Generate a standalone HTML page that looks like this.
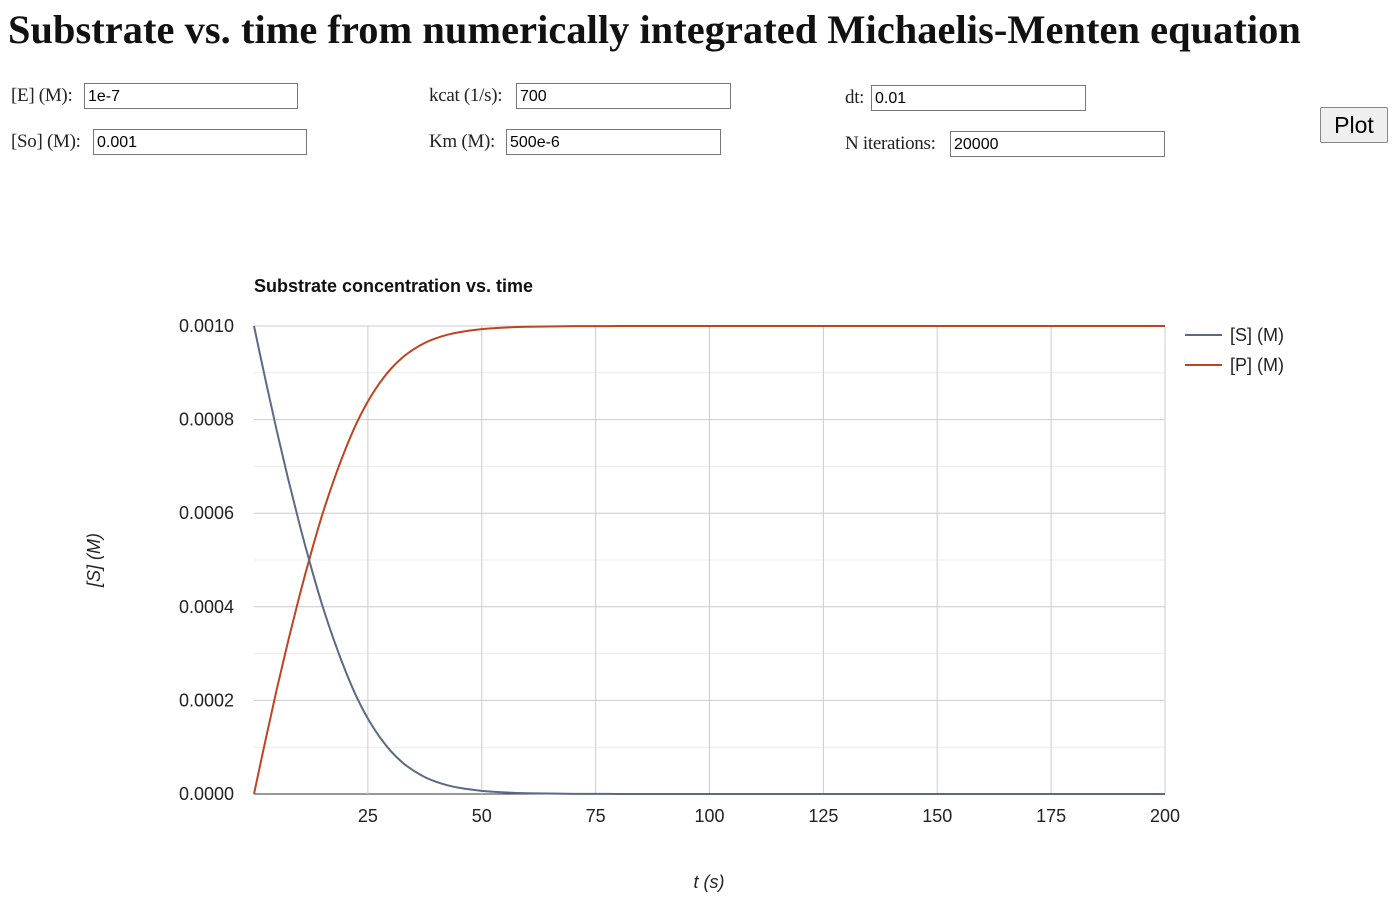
<!DOCTYPE html>
<html><head><meta charset="utf-8">
<style>
body{margin:0;width:1400px;height:907px;background:#fff;position:relative;overflow:hidden;font-family:"Liberation Serif",serif;}
h1{position:absolute;left:8px;top:6px;margin:0;font-size:40.4px;font-weight:bold;color:#111;white-space:nowrap;letter-spacing:0.05px;}
.lbl{position:absolute;font-size:19px;color:#222;white-space:nowrap;letter-spacing:-0.3px;}
.inp{position:absolute;height:26px;border:1px solid #777;font-family:"Liberation Sans",sans-serif;font-size:16px;padding:0 3px;box-sizing:border-box;line-height:26px;color:#000;background:#fff;}
.btn{position:absolute;left:1320px;top:107px;width:68px;height:36px;border:1px solid #888;border-radius:2px;background:#efefef;font-family:"Liberation Sans",sans-serif;font-size:23px;text-align:center;line-height:34px;box-sizing:border-box;}
svg text{font-family:"Liberation Sans",sans-serif;}
</style></head><body>
<h1>Substrate vs. time from numerically integrated Michaelis-Menten equation</h1>
<span class="lbl" style="left:11px;top:85px">[E] (M):</span>
<div class="inp" style="left:84px;top:83px;width:214px">1e-7</div>
<span class="lbl" style="left:11px;top:131px">[So] (M):</span>
<div class="inp" style="left:93px;top:129px;width:214px">0.001</div>
<span class="lbl" style="left:429px;top:85px">kcat (1/s):</span>
<div class="inp" style="left:516px;top:83px;width:215px">700</div>
<span class="lbl" style="left:429px;top:131px">Km (M):</span>
<div class="inp" style="left:506px;top:129px;width:215px">500e-6</div>
<span class="lbl" style="left:845px;top:87px">dt:</span>
<div class="inp" style="left:871px;top:85px;width:215px">0.01</div>
<span class="lbl" style="left:845px;top:133px">N iterations:</span>
<div class="inp" style="left:950px;top:131px;width:215px">20000</div>
<div class="btn">Plot</div>
<svg id="chart" width="1400" height="907" style="position:absolute;left:0;top:0"></svg>
<script>
const times=[0,2.5,5,7.5,10,12.5,15,17.5,20,22.5,25,27.5,30,32.5,35,37.5,40,42.5,45,50,55,60,70,80,90,100,125,150,175,200];
const sValues=[0.001,0.000886,0.000776,0.000673,0.000576,0.000486,0.000403,0.00033,0.000265,0.000208,0.000161,0.000123,0.000092,0.000068,0.00005,0.000036,0.000026,0.0000186,0.0000133,0.0000067,0.0000034,0.0000017,0.0000004,0.0000001,0,0,0,0,0,0];
const pValues=[0,0.000114,0.000224,0.000327,0.000424,0.000514,0.000597,0.00067,0.000735,0.000792,0.000839,0.000877,0.000908,0.000932,0.00095,0.000964,0.000974,0.0009814,0.0009867,0.0009933,0.0009966,0.0009983,0.0009996,0.0009999,0.001,0.001,0.001,0.001,0.001,0.001];
const xTicks=[25,50,75,100,125,150,175,200];
const yTicks=[0,0.0002,0.0004,0.0006,0.0008,0.001];
const yTickLabels=["0.0000","0.0002","0.0004","0.0006","0.0008","0.0010"];
const yMinor=[0.0001,0.0003,0.0005,0.0007,0.0009];
const X0=254,X1=1165,Y0=794,Y1=326;
const xs=t=>X0+(t/200)*(X1-X0);
const ys=v=>Y0-(v/0.001)*(Y0-Y1);
const svg=document.getElementById('chart');
const NS='http://www.w3.org/2000/svg';
function mk(tag,attrs,txt){const e=document.createElementNS(NS,tag);for(const k in attrs)e.setAttribute(k,attrs[k]);if(txt!=null)e.textContent=txt;svg.appendChild(e);return e;}
function smooth(vals){const p=times.map((t,i)=>[xs(t),ys(vals[i])]);let d='M'+p[0][0]+','+p[0][1];
for(let i=0;i<p.length-1;i++){const a=p[i-1]||p[i],b=p[i],c=p[i+1],e=p[i+2]||c;
d+=' C'+(b[0]+(c[0]-a[0])/6)+','+(b[1]+(c[1]-a[1])/6)+' '+(c[0]-(e[0]-b[0])/6)+','+(c[1]-(e[1]-b[1])/6)+' '+c[0]+','+c[1];}return d;}
yMinor.forEach(v=>{const l=mk('line',{x1:X0,x2:X1,y1:ys(v),y2:ys(v),stroke:'#ececec','stroke-width':1});

});
yTicks.forEach((v,i)=>{const l=mk('line',{x1:X0,x2:X1,y1:ys(v),y2:ys(v),stroke:v===0?'#333':'#ccc','stroke-width':1});


const t=mk('text',{x:234,y:ys(v)+6,'text-anchor':'end','font-size':18,fill:'#222'},yTickLabels[i]);

});
xTicks.forEach(v=>{const l=mk('line',{x1:xs(v),x2:xs(v),y1:Y1,y2:Y0,stroke:'#ccc','stroke-width':1});


const t=mk('text',{x:xs(v),y:822,'text-anchor':'middle','font-size':18,fill:'#222'},String(v));

});
const pp=mk('path',{d:smooth(pValues),fill:'none',stroke:'#c0431f','stroke-width':2});


const sp=mk('path',{d:smooth(sValues),fill:'none',stroke:'#5a6a85','stroke-width':2});


const ct=mk('text',{x:254,y:292,'font-size':18,'font-weight':'bold',fill:'#111'},'Substrate concentration vs. time');


const xt=mk('text',{x:709,y:888,'text-anchor':'middle','font-size':18,'font-style':'italic',fill:'#222'},'t (s)');


const yt=mk('text',{x:0,y:0,'text-anchor':'middle','font-size':18,'font-style':'italic',fill:'#222',transform:'translate(100,560) rotate(-90)'},'[S] (M)');


[['[S] (M)','#5a6a85',335],['[P] (M)','#c0431f',365]].forEach(([n,c,y])=>{
const l=mk('line',{x1:1185,x2:1222,y1:y,y2:y,stroke:c,'stroke-width':2});


const t=mk('text',{x:1230,y:y+6,'font-size':18,fill:'#222'},n);

});
</script>
</body></html>
